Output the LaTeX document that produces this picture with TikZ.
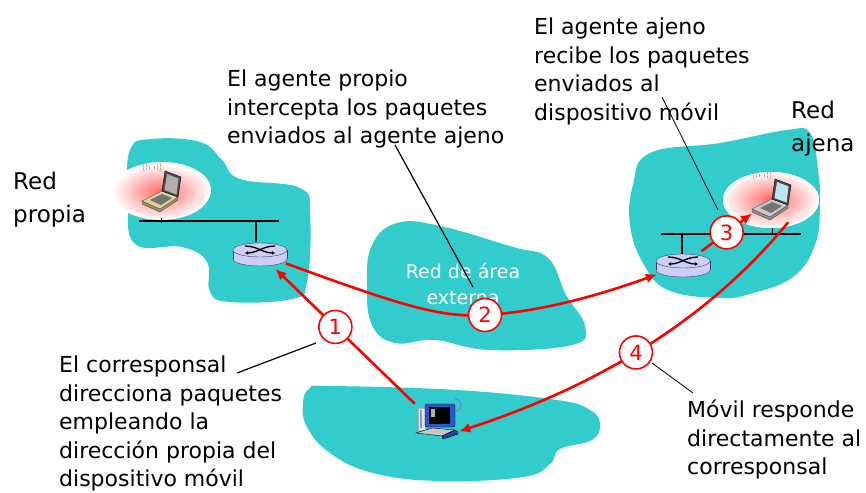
\documentclass[tikz,border=0pt]{standalone}
\usepackage{fontspec}
\setmainfont{DejaVu Sans}
\usetikzlibrary{arrows.meta,shapes.geometric}
\definecolor{nube}{RGB}{51,204,204}
\definecolor{lila}{RGB}{206,206,245}
\definecolor{lilaosc}{RGB}{60,60,110}
\definecolor{beige}{RGB}{225,205,150}
\definecolor{basegris}{RGB}{200,200,200}
\definecolor{pantgris}{RGB}{175,175,175}
\definecolor{pantazul}{RGB}{190,230,240}
\definecolor{azulpc}{RGB}{40,90,200}

\tikzset{
  pics/router/.style={code={
    \filldraw[fill=lila,draw=lilaosc] (0,5) ellipse (27 and 7);
    \fill[lila] (-27,-4) rectangle (27,5);
    \draw[lilaosc] (-27,-4) -- (-27,5) (27,-4) -- (27,5);
    \filldraw[fill=lila,draw=lilaosc] (0,-4) ellipse (27 and 7);
    \draw[line width=1.3pt,-{Latex[length=3pt,width=4pt]}] (-15,-8) .. controls (-3,-8) and (3,-1) .. (15,-1);
    \draw[line width=1.3pt,{Latex[length=3pt,width=4pt]}-] (-15,-1) .. controls (-3,-1) and (3,-8) .. (15,-8);
  }},
  pics/laptop/.style 2 args={code={
    \foreach \r in {3,6,9}{
      \draw[gray!70,line width=0.7pt] (-8,-28) ++(150:\r) arc[start angle=150,end angle=210,radius=\r];
      \draw[gray!70,line width=0.7pt] (-8,-28) ++(-30:\r) arc[start angle=-30,end angle=30,radius=\r];
    }
    \filldraw[fill=#2!70!black,draw=black!70] (-18,6) -- (-18,9) -- (0,17) -- (18,5) -- (18,2) -- (0,14) -- cycle;
    \filldraw[fill=#2,draw=black!70] (-18,6) -- (0,14) -- (18,2) -- (2,-4) -- cycle;
    \fill[black!55] (-10,5) -- (1,10) -- (12,3) -- (2,-1) -- cycle;
    \filldraw[fill=black!70,draw=black] (2,-4) -- (5,-24) -- (21,-18) -- (18,2) -- cycle;
    \fill[#1] (4.5,-5) -- (7,-21) -- (18.5,-16.5) -- (16.5,-0.5) -- cycle;
  }},
  pics/pc/.style={code={
    \filldraw[fill=gray!20,draw=gray!60] (-19,-13) rectangle (-12,9);
    \fill[azulpc!60] (-17,-11) rectangle (-15,7);
    \filldraw[fill=azulpc,draw=black,rounded corners=2pt] (-12,-17) rectangle (18,6);
    \fill[black] (-8,-14) rectangle (13,3);
    \fill[gray!60] (-6,-12) rectangle (-2,-4);
    \draw[azulpc!70,line width=1.5pt] (18,-10) arc[start angle=90,end angle=-90,radius=6];
    \filldraw[fill=gray!45,draw=black] (-21,12) -- (-5,7) -- (18,9) -- (5,15) -- cycle;
    \filldraw[fill=azulpc!80!black,draw=black] (5,15) -- (18,9) -- (21,11) -- (21,13) -- (6,18) -- cycle;
  }}
}

\begin{document}
\begin{tikzpicture}[x=1pt,y=-1pt,
  txt/.style={font=\fontsize{22}{28.5}\selectfont,align=left,inner sep=0pt,anchor=north west},
  rotulo/.style={font=\fontsize{23}{33}\selectfont,align=left,inner sep=0pt,anchor=north west},
  num/.style={circle,draw=red,fill=white,line width=1.6pt,text=red,minimum size=33pt,inner sep=0pt,font=\fontsize{21}{21}\selectfont},
  flecha/.style={draw=red,line width=2.6pt,-{Latex[length=11pt,width=10pt]}},
  guia/.style={draw=black,line width=0.8pt},
  lan/.style={line width=1.8pt},
  brillo/.style={inner color=red!60,outer color=white},
  equipo/.style={inner sep=0pt}]
\useasboundingbox (0,0) rectangle (866,492);

% nubes
\fill[nube] plot[smooth cycle,tension=0.7] coordinates {(130,150) (152,139) (200,142) (222,160) (240,179) (300,188) (310,215) (307,282) (292,299) (230,302) (210,292) (207,262) (182,247) (135,244) (128,200)};
\fill[nube] plot[smooth cycle,tension=0.7] coordinates {(372,245) (397,223) (440,226) (513,247) (548,258) (566,295) (585,326) (572,345) (490,350) (435,340) (395,343) (372,325) (367,285)};
\fill[nube] plot[smooth cycle,tension=0.7] coordinates {(650,153) (720,143) (787,130) (810,133) (818,170) (820,205) (815,245) (793,277) (753,293) (720,298) (668,290) (643,263) (630,225) (633,185)};
\fill[nube] plot[smooth cycle,tension=0.7] coordinates {(310,388) (330,386) (457,390) (557,400) (590,410) (600,424) (592,440) (560,449) (550,464) (523,477) (440,481) (373,473) (330,453) (307,427) (303,403)};
\node[text=white,align=center,inner sep=0pt,anchor=north,font=\fontsize{19}{26}\selectfont] (ext) at (463,263) {Red de área\\externa};

% red propia
\fill[white] (162,190) ellipse (49 and 28);
\shade[brillo] (161,192) ellipse (49 and 28);
\pic at (160,195) {laptop={pantgris}{beige}};
\draw[lan] (139,221) -- (279,221);
\draw[line width=1pt] (161,218) -- (161,223);
\draw[lan] (256,221) -- (256,242);
\node[equipo,ellipse,minimum width=62pt,minimum height=34pt] (rp) at (260,254) {};
\pic at (rp) {router};

% red ajena
\fill[white] (771,200) ellipse (48 and 28);
\shade[brillo] (771,200) ellipse (48 and 28);
\pic at (770,203) {laptop={pantazul}{basegris}};
\node[equipo,minimum width=36pt,minimum height=44pt] (la) at (770,200) {};
\draw[lan] (661,234) -- (801,234);
\draw[line width=1pt] (772,228) -- (772,234);
\draw[lan] (682,234) -- (682,254);
\node[equipo,ellipse,minimum width=62pt,minimum height=34pt] (ra) at (683,265) {};
\pic at (ra) {router};

% corresponsal
\node[equipo,minimum width=44pt,minimum height=34pt] (pc) at (437,421) {};
\pic at (pc) {pc};

% flechas
\draw[flecha] (pc.north west) -- (rp) node[num,pos=0.57] (n1) {1};
\coordinate (c2) at (485,315);
\draw[flecha] (rp) .. controls (400,305) and (440,318) .. (c2) .. controls (540,312) and (600,295) .. (ra);
\node[num] (n2) at (c2) {2};
\draw[flecha] (ra) -- (la) node[num,pos=0.5] (n3) {3};
\draw[flecha] (la.south east) .. controls (700,330) and (580,392) .. (pc.-25) node[num,pos=0.5] (n4) {4};

% textos
\node[rotulo] (rprop) at (13,172) {Red\\propia};
\node[rotulo] (rajena) at (791,101) {Red\\ajena};
\node[txt] (tprop) at (227,70) {El agente propio\\intercepta los paquetes\\enviados al agente ajeno};
\node[txt] (tajeno) at (534,18) {El agente ajeno\\recibe los paquetes\\enviados al\\dispositivo móvil};
\node[txt] (tcorr) at (59,356) {El corresponsal\\direcciona paquetes\\empleando la\\dirección propia del\\dispositivo móvil};
\node[txt] (tmovil) at (687,400) {Móvil responde\\directamente al\\corresponsal};

% guias
\coordinate (g1) at (395,145);
\coordinate (g2) at (473,287);
\coordinate (g3) at (662,97);
\coordinate (g4) at (718,210);
\coordinate (g5) at (237,373);
\coordinate (g6) at (316,343);
\coordinate (g7) at (652,363);
\coordinate (g8) at (693,393);
\draw[guia,line width=1.2pt] (g1) -- (g2);
\draw[guia] (g3) -- (g4);
\draw[guia,line width=1.2pt] (g5) -- (g6);
\draw[guia] (g7) -- (g8);
\end{tikzpicture}
\end{document}
